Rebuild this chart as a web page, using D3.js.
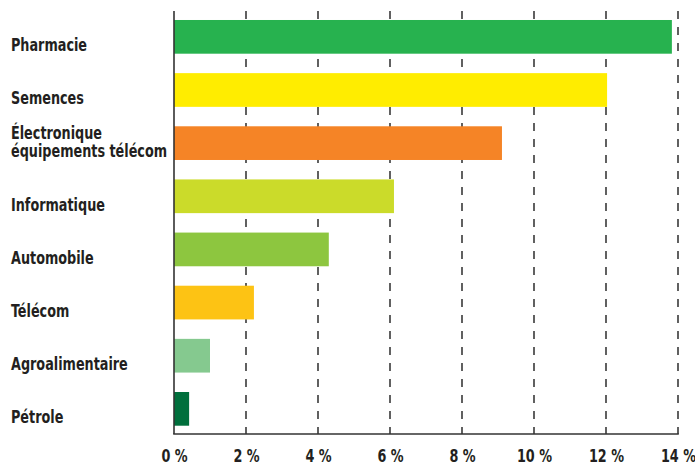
<!DOCTYPE html>
<html>
<head>
<meta charset="utf-8">
<script src="https://cdn.jsdelivr.net/npm/d3@7"></script>
<style>
  html, body { margin: 0; padding: 0; background: #fff; }
  svg { display: block; }
  text { font-family: "DejaVu Sans Condensed", "DejaVu Sans", sans-serif; font-weight: bold; fill: #231f20; }
</style>
</head>
<body>
<svg id="chart" width="695" height="466"></svg>
<script>
const categories = ["Pharmacie", "Semences", "Électronique\néquipements télécom", "Informatique", "Automobile", "Télécom", "Agroalimentaire", "Pétrole"];
const values = [13.83, 12.03, 9.11, 6.11, 4.3, 2.22, 1.0, 0.42];
const barColors = ["#27b24f", "#ffed00", "#f58426", "#cbdb2a", "#8dc63f", "#fdc314", "#85c98f", "#006f3c"];
const tickValues = [0, 2, 4, 6, 8, 10, 12, 14];
const tickLabels = ["0 %", "2 %", "4 %", "6 %", "8 %", "10 %", "12 %", "14 %"];

const svg = d3.select("#chart");
const x = d3.scaleLinear().domain([0, 14]).range([174, 678]);
const y = d3.scaleBand().domain(categories).range([11.7, 434]).paddingInner(0.3658).paddingOuter(0.156);
const plotTop = 11, plotBottom = 434;
const squeeze = 0.79;

// gridlines (dashed)
svg.append("g").selectAll("line").data(tickValues.filter(d => d > 0)).join("line")
  .attr("x1", d => x(d)).attr("x2", d => x(d))
  .attr("y1", plotTop).attr("y2", plotBottom)
  .attr("stroke", "#3a3a3a").attr("stroke-width", 1.6)
  .attr("stroke-dasharray", "8,8");

// bars
svg.append("g").selectAll("rect").data(categories).join("rect")
  .attr("x", x(0))
  .attr("y", d => y(d))
  .attr("width", (d, i) => x(values[i]) - x(0))
  .attr("height", y.bandwidth())
  .attr("fill", (d, i) => barColors[i]);

// axes lines
svg.append("line").attr("x1", x(0)).attr("x2", x(0)).attr("y1", plotTop).attr("y2", plotBottom)
  .attr("stroke", "#333").attr("stroke-width", 1.6);
svg.append("line").attr("x1", x(0) - 0.8).attr("x2", x(14) + 0.8).attr("y1", plotBottom).attr("y2", plotBottom)
  .attr("stroke", "#333").attr("stroke-width", 1.6);

// x tick labels
const xAxis = d3.axisBottom(x).tickValues(tickValues).tickFormat((d, i) => tickLabels[i]).tickSize(0).tickPadding(0);
const gx = svg.append("g").attr("transform", `translate(0,${plotBottom + 28})`).call(xAxis);
gx.select(".domain").remove();
gx.selectAll("text").attr("dy", 0).attr("y", 0).attr("font-size", 18)
  .attr("transform", `scale(${squeeze},1)`)
  .style("font-family", "'DejaVu Sans Condensed', 'DejaVu Sans', sans-serif")
  .style("font-weight", "bold").attr("fill", "#231f20");

// category labels
const labG = svg.append("g").attr("transform", `translate(11,0) scale(${squeeze},1)`);
const lab = labG.selectAll("text").data(categories).join("text")
  .attr("x", 0)
  .attr("font-size", 18);
lab.each(function(d) {
  const lines = d.split("\n");
  const base = y(d) + y.bandwidth() - 2.5;
  const t = d3.select(this);
  lines.forEach((ln, j) => {
    t.append("tspan").attr("x", 0)
      .attr("y", base - (lines.length - 1 - j) * 18)
      .text(ln);
  });
});
</script>
</body>
</html>
